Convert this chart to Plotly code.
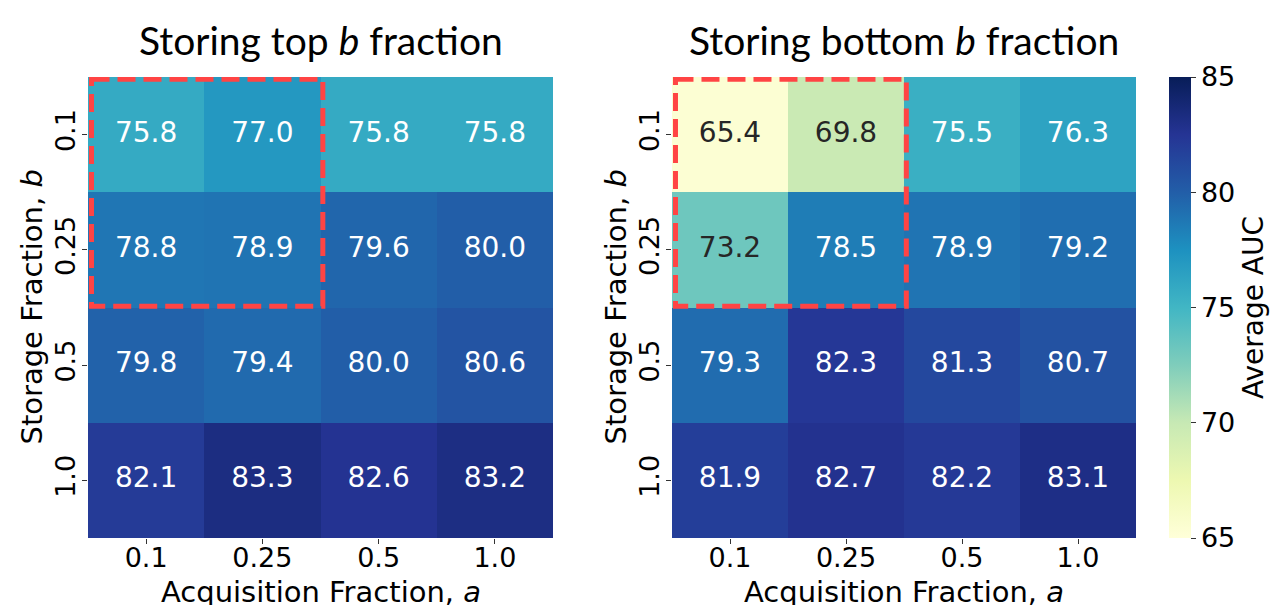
import plotly.graph_objects as go

acq = ["0.1", "0.25", "0.5", "1.0"]
sto = ["0.1", "0.25", "0.5", "1.0"]
top_vals = [
    [75.8, 77.0, 75.8, 75.8],
    [78.8, 78.9, 79.6, 80.0],
    [79.8, 79.4, 80.0, 80.6],
    [82.1, 83.3, 82.6, 83.2],
]
bottom_vals = [
    [65.4, 69.8, 75.5, 76.3],
    [73.2, 78.5, 78.9, 79.2],
    [79.3, 82.3, 81.3, 80.7],
    [81.9, 82.7, 82.2, 83.1],
]
titles = ["Storing top <i>b</i> fraction", "Storing bottom <i>b</i> fraction"]
cbar_ticks = [65, 70, 75, 80, 85]

YLGNBU = ["#ffffd9", "#edf8b1", "#c7e9b4", "#7fcdbb", "#41b6c4",
          "#1d91c0", "#225ea8", "#253494", "#081d58"]
cscale = [[i / 8, c] for i, c in enumerate(YLGNBU)]

W, H = 1283, 605
px = lambda v: v / W
py = lambda v: (H - v) / H

domains_x = [(88, 553), (672, 1136)]
top_px, bot_px = 77, 538
TICKF = dict(family="DejaVu Sans", size=27, color="black")
TITLEF = dict(family="Lato", size=39, color="black")
LABF = dict(family="DejaVu Sans", size=28, color="black")
AXF = dict(family="DejaVu Sans", size=29, color="black")

fig = go.Figure()
for i, vals in enumerate([top_vals, bottom_vals]):
    xa = "x" if i == 0 else "x2"
    ya = "y" if i == 0 else "y2"
    fig.add_trace(go.Heatmap(
        z=vals, x=acq, y=sto, xaxis=xa, yaxis=ya,
        colorscale=cscale, zmin=65, zmax=85,
        showscale=(i == 1),
        colorbar=dict(
            x=1169 / W, xanchor="left", xpad=0, ypad=0,
            y=py(bot_px), yanchor="bottom", len=(bot_px - top_px) / H, lenmode="fraction",
            thickness=22, outlinewidth=0,
            tickvals=cbar_ticks, ticks="outside", ticklen=5, tickcolor="#333",
            tickfont=TICKF,
            title=dict(text="Average AUC", side="right", font=LABF),
        ),
        hoverinfo="skip",
    ))
    xs, ys, txt, cols = [], [], [], []
    for r, s in enumerate(sto):
        for c, a in enumerate(acq):
            v = vals[r][c]
            xs.append(a); ys.append(s); txt.append(f"{v:.1f}")
            cols.append("#262626" if v < 74 else "white")
    fig.add_trace(go.Scatter(
        x=xs, y=ys, text=txt, mode="text", xaxis=xa, yaxis=ya,
        textfont=dict(family="DejaVu Sans", size=28, color=cols),
        hoverinfo="skip", showlegend=False,
    ))
    d = domains_x[i]
    axx = dict(domain=[px(d[0]), px(d[1])], anchor=ya, type="category",
               categoryorder="array", categoryarray=acq,
               ticks="outside", ticklen=5, tickcolor="#333", tickfont=TICKF,
               ticklabelstandoff=-9,
               showgrid=False, zeroline=False, showline=False, automargin=False,
               range=[-0.5, 3.5], fixedrange=True)
    axy = dict(domain=[py(bot_px), py(top_px)], anchor=xa, type="category",
               categoryorder="array", categoryarray=sto,
               ticks="outside", ticklen=5, tickcolor="#333", tickfont=TICKF,
               tickangle=-90, ticklabelstandoff=-4,
               showgrid=False, zeroline=False, showline=False, automargin=False,
               range=[3.5, -0.5], fixedrange=True)
    if i == 0:
        fig.update_layout(xaxis=axx, yaxis=axy)
    else:
        fig.update_layout(xaxis2=axx, yaxis2=axy)

    cx = px((d[0] + d[1]) / 2)
    fig.add_annotation(text=titles[i], x=cx, y=py(40), xref="paper", yref="paper",
                       showarrow=False, font=TITLEF, xanchor="center", yanchor="middle")
    fig.add_annotation(text="Acquisition Fraction, <i>a</i>", x=cx, y=py(573),
                       xref="paper", yref="paper", showarrow=False,
                       font=AXF, xanchor="center", yanchor="top")
    fig.add_annotation(text="Storage Fraction, <i>b</i>", x=px(d[0] - 57), y=py((top_px + bot_px) / 2),
                       xref="paper", yref="paper", showarrow=False, textangle=-90,
                       font=AXF, xanchor="center", yanchor="middle")
    fig.add_shape(type="rect", xref=xa, yref=ya, x0=-0.47, x1=1.52, y0=-0.48, y1=1.49,
                  line=dict(color="#ff4444", width=5, dash="18px,8px"), fillcolor="rgba(0,0,0,0)")

fig.update_layout(width=W, height=H, margin=dict(l=0, r=0, t=0, b=0),
                  paper_bgcolor="white", plot_bgcolor="white", showlegend=False)
fig.write_html("out.html", config={"displayModeBar": False},
               post_script="document.body.style.margin='0';document.body.style.overflow='hidden';")
